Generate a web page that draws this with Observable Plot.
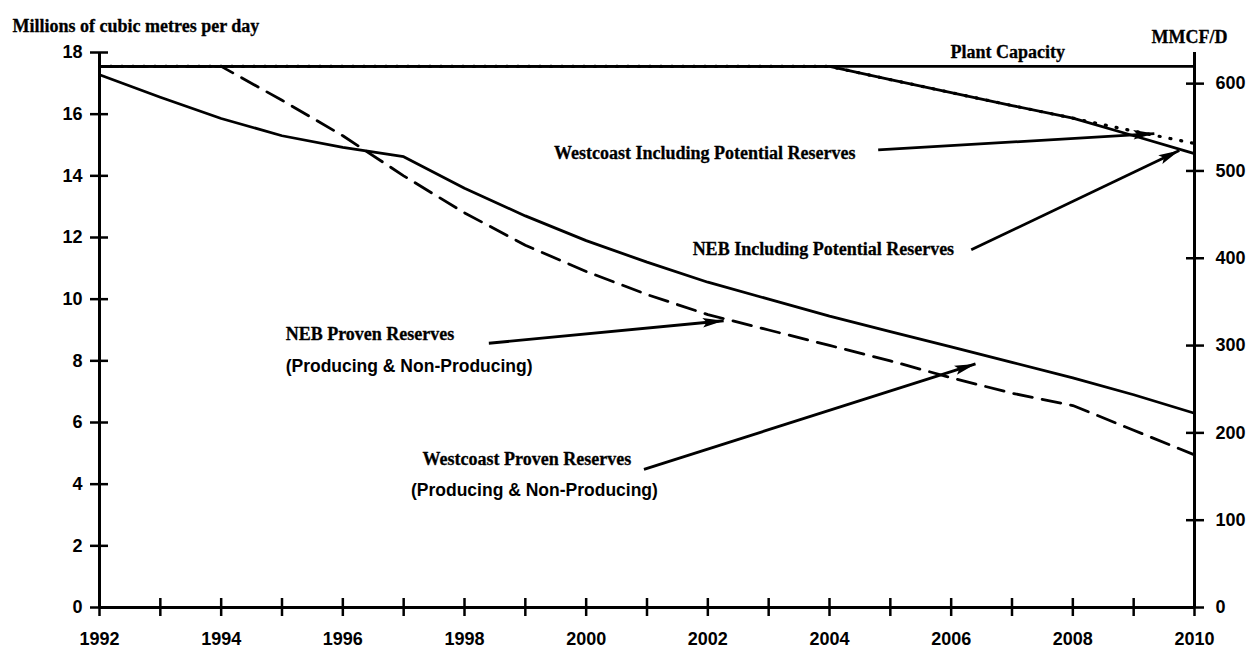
<!DOCTYPE html>
<html>
<head>
<meta charset="utf-8">
<script src="https://cdn.jsdelivr.net/npm/d3@7"></script>
<script src="https://cdn.jsdelivr.net/npm/@observablehq/plot@0.6"></script>
<style>
  body { margin: 0; background: #fff; }
  #chart svg { display: block; }
</style>
</head>
<body>
<div id="chart"></div>
<script>
// ---------------- data ----------------
const years = [1992, 1993, 1994, 1995, 1996, 1997, 1998, 1999, 2000, 2001,
               2002, 2003, 2004, 2005, 2006, 2007, 2008, 2009, 2010];

const plantCapacity = [17.55, 17.55, 17.55, 17.55, 17.55, 17.55, 17.55, 17.55, 17.55, 17.55,
                       17.55, 17.55, 17.55, 17.55, 17.55, 17.55, 17.55, 17.55, 17.55];

const nebPotential = [17.55, 17.55, 17.55, 17.55, 17.55, 17.55, 17.55, 17.55, 17.55, 17.55,
                      17.55, 17.55, 17.55, 17.12, 16.70, 16.28, 15.87, 15.30, 14.72];

const westcoastPotential = [17.55, 17.55, 17.55, 17.55, 17.55, 17.55, 17.55, 17.55, 17.55, 17.55,
                            17.55, 17.55, 17.55, 17.12, 16.70, 16.28, 15.87, 15.45, 15.05];

const nebProven = [17.55, 17.55, 17.55, 16.45, 15.30, 14.00, 12.80, 11.75, 10.90, 10.15,
                   9.50, 9.00, 8.50, 8.00, 7.45, 6.95, 6.55, 5.75, 4.95];

const westcoastProven = [17.28, 16.55, 15.86, 15.30, 14.92, 14.62, 13.60, 12.70, 11.90, 11.20,
                         10.55, 10.00, 9.45, 8.95, 8.45, 7.95, 7.45, 6.90, 6.30];

const leftTicks = [0, 2, 4, 6, 8, 10, 12, 14, 16, 18];
const rightTicks = [0, 100, 200, 300, 400, 500, 600];       // MMCF/D
const xLabelYears = [1992, 1994, 1996, 1998, 2000, 2002, 2004, 2006, 2008, 2010];
const MMCF_PER_MILLION_M3 = 35.3147;

const leftTitle = "Millions of cubic metres per day";
const rightTitle = "MMCF/D";

// annotation labels (data coordinates, left-aligned)
const noteText = ["Westcoast Including Potential Reserves", "NEB Including Potential Reserves",
                  "NEB Proven Reserves", "(Producing & Non-Producing)",
                  "Westcoast Proven Reserves", "(Producing & Non-Producing)"];
const noteYear = [1999.47, 2001.75, 1995.06, 1995.06, 1997.31, 1997.12];
const noteValue = [14.72, 11.62, 8.87, 7.83, 4.82, 3.79];
const noteSerif = [true, true, true, false, true, false];

// centred label
const capacityLabel = "Plant Capacity";
const capacityLabelYear = 2006.93;
const capacityLabelValue = 18.0;

// arrows (data coordinates)
const arrowX1 = [2004.8, 2006.33, 1998.4, 2000.95];
const arrowY1 = [14.84, 11.6, 8.57, 4.48];
const arrowX2 = [2009.34, 2009.75, 2002.26, 2006.4];
const arrowY2 = [15.37, 14.82, 9.3, 7.9];

// ---------------- build ----------------
const rows = (vals) => years.map((yr, i) => ({year: yr, value: vals[i]}));
const notes = noteText.map((t, i) => ({text: t, x: noteYear[i], y: noteValue[i], serif: noteSerif[i]}));
const arrows = arrowX1.map((d, i) => ({x1: d, y1: arrowY1[i], x2: arrowX2[i], y2: arrowY2[i]}));
const rightTickPos = rightTicks.map(v => v / MMCF_PER_MILLION_M3);

const SERIF = "'Liberation Serif', 'Times New Roman', serif";
const SANS = "'Liberation Sans', Arial, sans-serif";
const blank = () => "";

// filled arrow head, tip at the origin, pointing along +x
const headSymbol = {
  draw(context) {
    context.moveTo(0, 0);
    context.lineTo(-21, -4.8);
    context.lineTo(-17, 0);
    context.lineTo(-21, 4.8);
    context.closePath();
  }
};

function build(extra) {
  return Plot.plot({
    width: 1253,
    height: 655,
    marginLeft: 99,
    marginRight: 59,
    marginTop: 52,
    marginBottom: 48,
    style: {fontFamily: SANS, fontSize: "18px", fontWeight: "bold", color: "#000", background: "#fff"},
    x: {domain: [1992, 2010]},
    y: {domain: [0, 18]},
    marks: [
      // frame: left, right and bottom lines
      Plot.ruleX([1992, 2010], {stroke: "#000", strokeWidth: 3}),
      Plot.ruleY([0], {stroke: "#000", strokeWidth: 3}),

      // cross ticks (no labels)
      Plot.axisX({ticks: years, tickSize: 18, dy: -9, strokeWidth: 2.5, tickFormat: blank, label: null}),
      Plot.axisY({anchor: "left", ticks: leftTicks, tickSize: 18, dx: 9, strokeWidth: 2.5, tickFormat: blank, label: null}),
      Plot.axisY({anchor: "right", ticks: rightTickPos, tickSize: 18, dx: -9, strokeWidth: 2.5, tickFormat: blank, label: null}),

      // tick labels (no ticks)
      Plot.axisX({ticks: xLabelYears, tickSize: 0, tickPadding: 25, tickFormat: d => String(d), label: null,
                  fontSize: 18, fontWeight: "bold"}),
      Plot.axisY({anchor: "left", ticks: leftTicks, tickSize: 0, tickPadding: 17, label: null,
                  fontSize: 18, fontWeight: "bold"}),
      Plot.axisY({anchor: "right", ticks: rightTickPos, tickSize: 0, tickPadding: 21, label: null,
                  tickFormat: d => String(Math.round(d * MMCF_PER_MILLION_M3)), fontSize: 18, fontWeight: "bold"}),

      // series
      Plot.line(rows(plantCapacity), {x: "year", y: "value", stroke: "#000", strokeWidth: 2.8}),
      Plot.line(rows(nebPotential), {x: "year", y: "value", stroke: "#000", strokeWidth: 2.8}),
      Plot.line(rows(westcoastPotential), {x: "year", y: "value", stroke: "#000", strokeWidth: 3.2,
                                           strokeDasharray: "1,10", strokeLinecap: "round"}),
      Plot.line(rows(nebProven), {x: "year", y: "value", stroke: "#000", strokeWidth: 2.8, strokeDasharray: "19,10"}),
      Plot.line(rows(westcoastProven), {x: "year", y: "value", stroke: "#000", strokeWidth: 2.8}),

      // arrow shafts
      Plot.link(arrows, {x1: "x1", y1: "y1", x2: "x2", y2: "y2", stroke: "#000", strokeWidth: 2.8}),

      // annotation text
      Plot.text(notes.filter(d => d.serif), {x: "x", y: "y", text: "text", textAnchor: "start",
                                             fontFamily: SERIF, fontSize: 18, fontWeight: "bold", fill: "#000",
                                             stroke: "#000", strokeWidth: 0.3}),
      Plot.text(notes.filter(d => !d.serif), {x: "x", y: "y", text: "text", textAnchor: "start",
                                              fontFamily: SANS, fontSize: 17.5, fontWeight: "bold", fill: "#000"}),
      Plot.text([capacityLabel], {x: () => capacityLabelYear, y: () => capacityLabelValue, textAnchor: "middle",
                                  fontFamily: SERIF, fontSize: 18, fontWeight: "bold", fill: "#000",
                                  stroke: "#000", strokeWidth: 0.3}),

      // axis titles
      Plot.text([leftTitle], {frameAnchor: "top-left", dx: -87, dy: -33, textAnchor: "start",
                              fontFamily: SERIF, fontSize: 18, fontWeight: "bold", fill: "#000",
                              stroke: "#000", strokeWidth: 0.3}),
      Plot.text([rightTitle], {frameAnchor: "top-right", dx: -5, dy: -22, textAnchor: "middle",
                               fontFamily: SERIF, fontSize: 18, fontWeight: "bold", fill: "#000",
                               stroke: "#000", strokeWidth: 0.3}),
      ...extra
    ]
  });
}

// first pass: read the scales to orient the arrow heads in screen space
const base = build([]);
const sx = base.scale("x"), sy = base.scale("y");
const heads = arrows.map(a => ({
  x: a.x2, y: a.y2,
  angle: Math.atan2(sy.apply(a.y2) - sy.apply(a.y1), sx.apply(a.x2) - sx.apply(a.x1)) * 180 / Math.PI
}));

const chart = build([
  Plot.dot(heads, {x: "x", y: "y", rotate: "angle", symbol: headSymbol, r: 10, fill: "#000", stroke: "none"})
]);

document.getElementById("chart").appendChild(chart);
</script>
</body>
</html>
